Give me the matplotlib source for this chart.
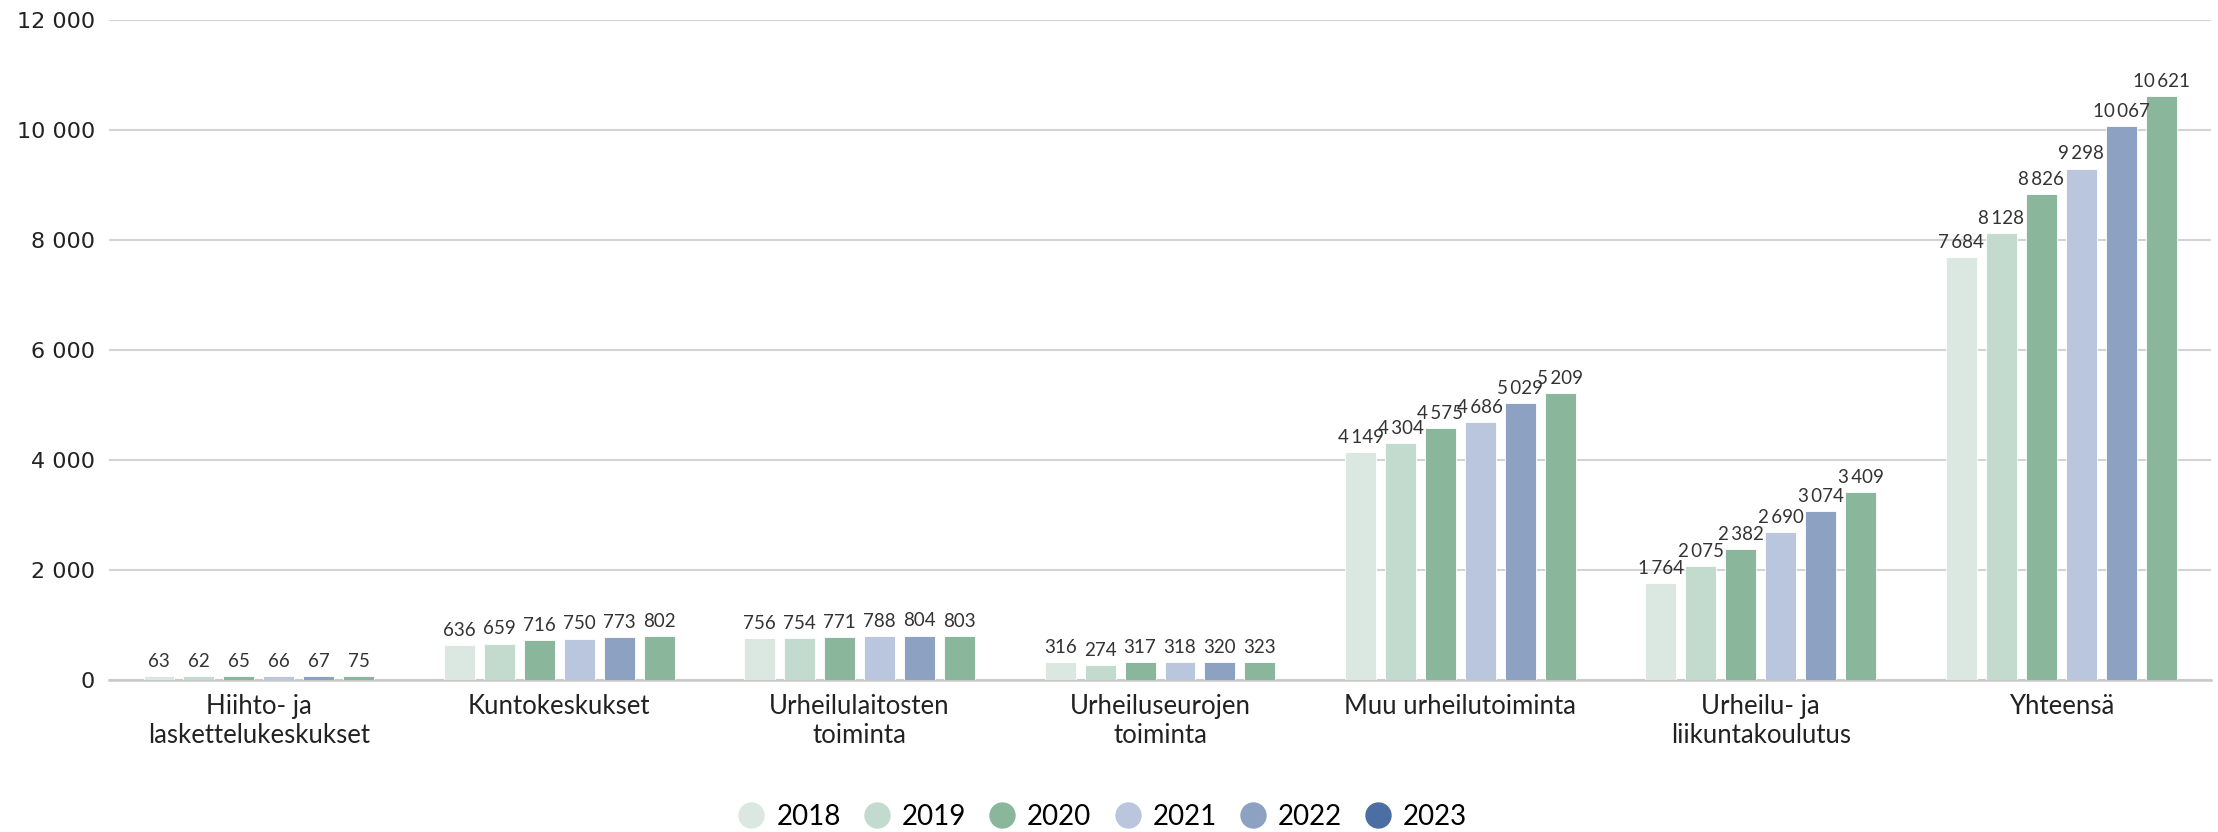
import matplotlib
matplotlib.use("Agg")
import matplotlib.pyplot as plt
from matplotlib.lines import Line2D
import numpy as np

categories = ["Hiihto- ja\nlaskettelukeskukset", "Kuntokeskukset", "Urheilulaitosten\ntoiminta",
              "Urheiluseurojen\ntoiminta", "Muu urheilutoiminta", "Urheilu- ja\nliikuntakoulutus", "Yhteensä"]
years = ["2018", "2019", "2020", "2021", "2022", "2023"]
v2018 = [63, 636, 756, 316, 4149, 1764, 7684]
v2019 = [62, 659, 754, 274, 4304, 2075, 8128]
v2020 = [65, 716, 771, 317, 4575, 2382, 8826]
v2021 = [66, 750, 788, 318, 4686, 2690, 9298]
v2022 = [67, 773, 804, 320, 5029, 3074, 10067]
v2023 = [75, 802, 803, 323, 5209, 3409, 10621]
series = [v2018, v2019, v2020, v2021, v2022, v2023]
yticks = [0, 2000, 4000, 6000, 8000, 10000, 12000]

bar_colors = ["#dbe8e1", "#c3dbcf", "#8ab79c", "#b9c6de", "#8da2c3", "#8ab79c"]
legend_colors = ["#dbe8e1", "#c3dbcf", "#8ab79c", "#b9c6de", "#8da2c3", "#4d6ea3"]

def fmt(v, sep=" "):
    return f"{v:,}".replace(",", sep)

fig = plt.figure(figsize=(22.18, 8.32), dpi=100)
ax = fig.add_axes([0.049, 0.183, 0.948, 0.793])

x = np.arange(len(categories))
step = 0.133
width = 0.103
for i, (vals, col) in enumerate(zip(series, bar_colors)):
    pos = x + (i - 2.5) * step
    ax.bar(pos, vals, width=width, color=col, edgecolor="white", linewidth=0.6, zorder=3)
    for p, v in zip(pos, vals):
        ax.text(p, v + 110, fmt(v, "\u2009"), ha="center", va="bottom", fontsize=13.5,
                family=["Lato", "DejaVu Sans"], color="#333333", zorder=4)

ax.set_xlim(-0.5, len(categories) - 0.5)
ax.set_ylim(0, 12000)
ax.set_yticks(yticks)
ax.set_yticklabels([fmt(t) for t in yticks], family="DejaVu Sans", fontsize=16, color="#222222")
ax.set_xticks(x)
ax.set_xticklabels(categories, family="Lato", fontsize=18.5, color="#222222", linespacing=1.2)
ax.tick_params(axis="both", length=0)
ax.tick_params(axis="y", pad=10)
ax.tick_params(axis="x", pad=10)
ax.grid(axis="y", color="#d3d3d3", linewidth=1.5, zorder=0)
for s in ["top", "right", "left"]:
    ax.spines[s].set_visible(False)
ax.spines["bottom"].set_color("#c8c8c8")
ax.spines["bottom"].set_linewidth(1.8)

handles = [Line2D([], [], marker="o", linestyle="none", markersize=18,
                  markerfacecolor=c, markeredgecolor=c) for c in legend_colors]
fig.legend(handles, years, loc="center", bbox_to_anchor=(0.497, 0.0186), ncol=6,
           frameon=False, prop={"family": "Lato", "size": 20}, handlelength=1.0,
           handletextpad=0.4, columnspacing=0.8, borderpad=0)

fig.savefig("out.png", dpi=100)
